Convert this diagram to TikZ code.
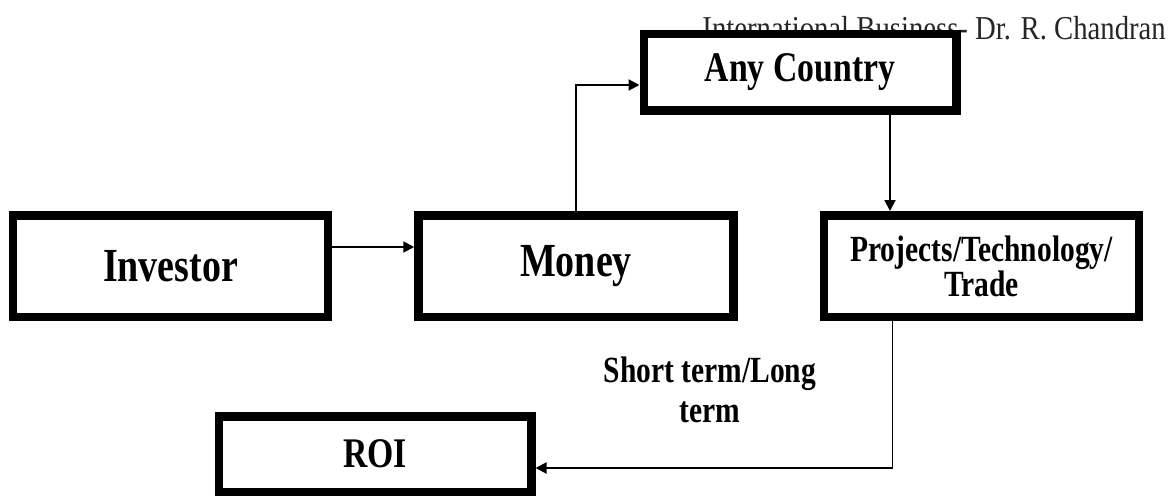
\documentclass[tikz,border=0pt]{standalone}
\usepackage{fontspec}
\setmainfont{Liberation Serif}
\newfontfamily\narrowserif{Liberation Serif}[FakeStretch=0.8]
\newfontfamily\headserif{Liberation Serif}[FakeStretch=0.86]
\usetikzlibrary{positioning,arrows.meta}

\begin{document}
\begin{tikzpicture}[
    node distance=1.64cm,
    every node/.style={font=\narrowserif\bfseries},
    box/.style={draw, line width=0.17cm, fill=white, inner sep=0pt, align=center, minimum width=6.3cm, minimum height=2.03cm},
    flatbox/.style={box, minimum width=6.25cm, minimum height=1.53cm},
    link/.style={line width=1.1pt, -{Triangle[length=0.22cm,width=0.22cm]}}
]
\useasboundingbox (0,0) rectangle (23.5,9.92);

% 页眉
\node[anchor=base east, font=\headserif\fontsize{19}{22}\selectfont, text=black!85] (header) at (23.44,9.12) {International Business- Dr. R. Chandran};

% 中间一排节点
\node[box, font=\narrowserif\bfseries\fontsize{27}{30}\selectfont] (investor) at (3.41,4.60) {Investor};
\node[box, right=of investor, font=\narrowserif\bfseries\fontsize{27}{30}\selectfont] (money) {Money};
\node[box, right=of money, font=\narrowserif\bfseries\fontsize{21}{20}\selectfont] (projects) {Projects/Technology/\\Trade};

% 上方和下方节点
\node[flatbox, font=\narrowserif\bfseries\fontsize{24}{27}\selectfont] (country) at (16.0,8.48) {Any Country};
\node[flatbox, minimum height=1.51cm, font=\narrowserif\bfseries\fontsize{24}{27}\selectfont] (roi) at (7.5,0.84) {ROI};

% 标签
\node[align=center, font=\narrowserif\bfseries\fontsize{21}{23}\selectfont] (term) at (14.2,2.12) {Short term/Long\\term};

% 连接线
\coordinate (drop) at ([xshift=1.8cm]country.south);
\coordinate (rise) at ([xshift=-1.78cm]projects.south);
\draw[link] ([yshift=0.38cm]investor.east) -- ([yshift=0.38cm]money.west);
\draw[link] (money.north) |- ([yshift=-0.26cm]country.west);
\draw[link] (drop) -- (drop |- projects.north);
\draw[link] (rise) |- ([yshift=-0.28cm]roi.east);

\end{tikzpicture}
\end{document}
